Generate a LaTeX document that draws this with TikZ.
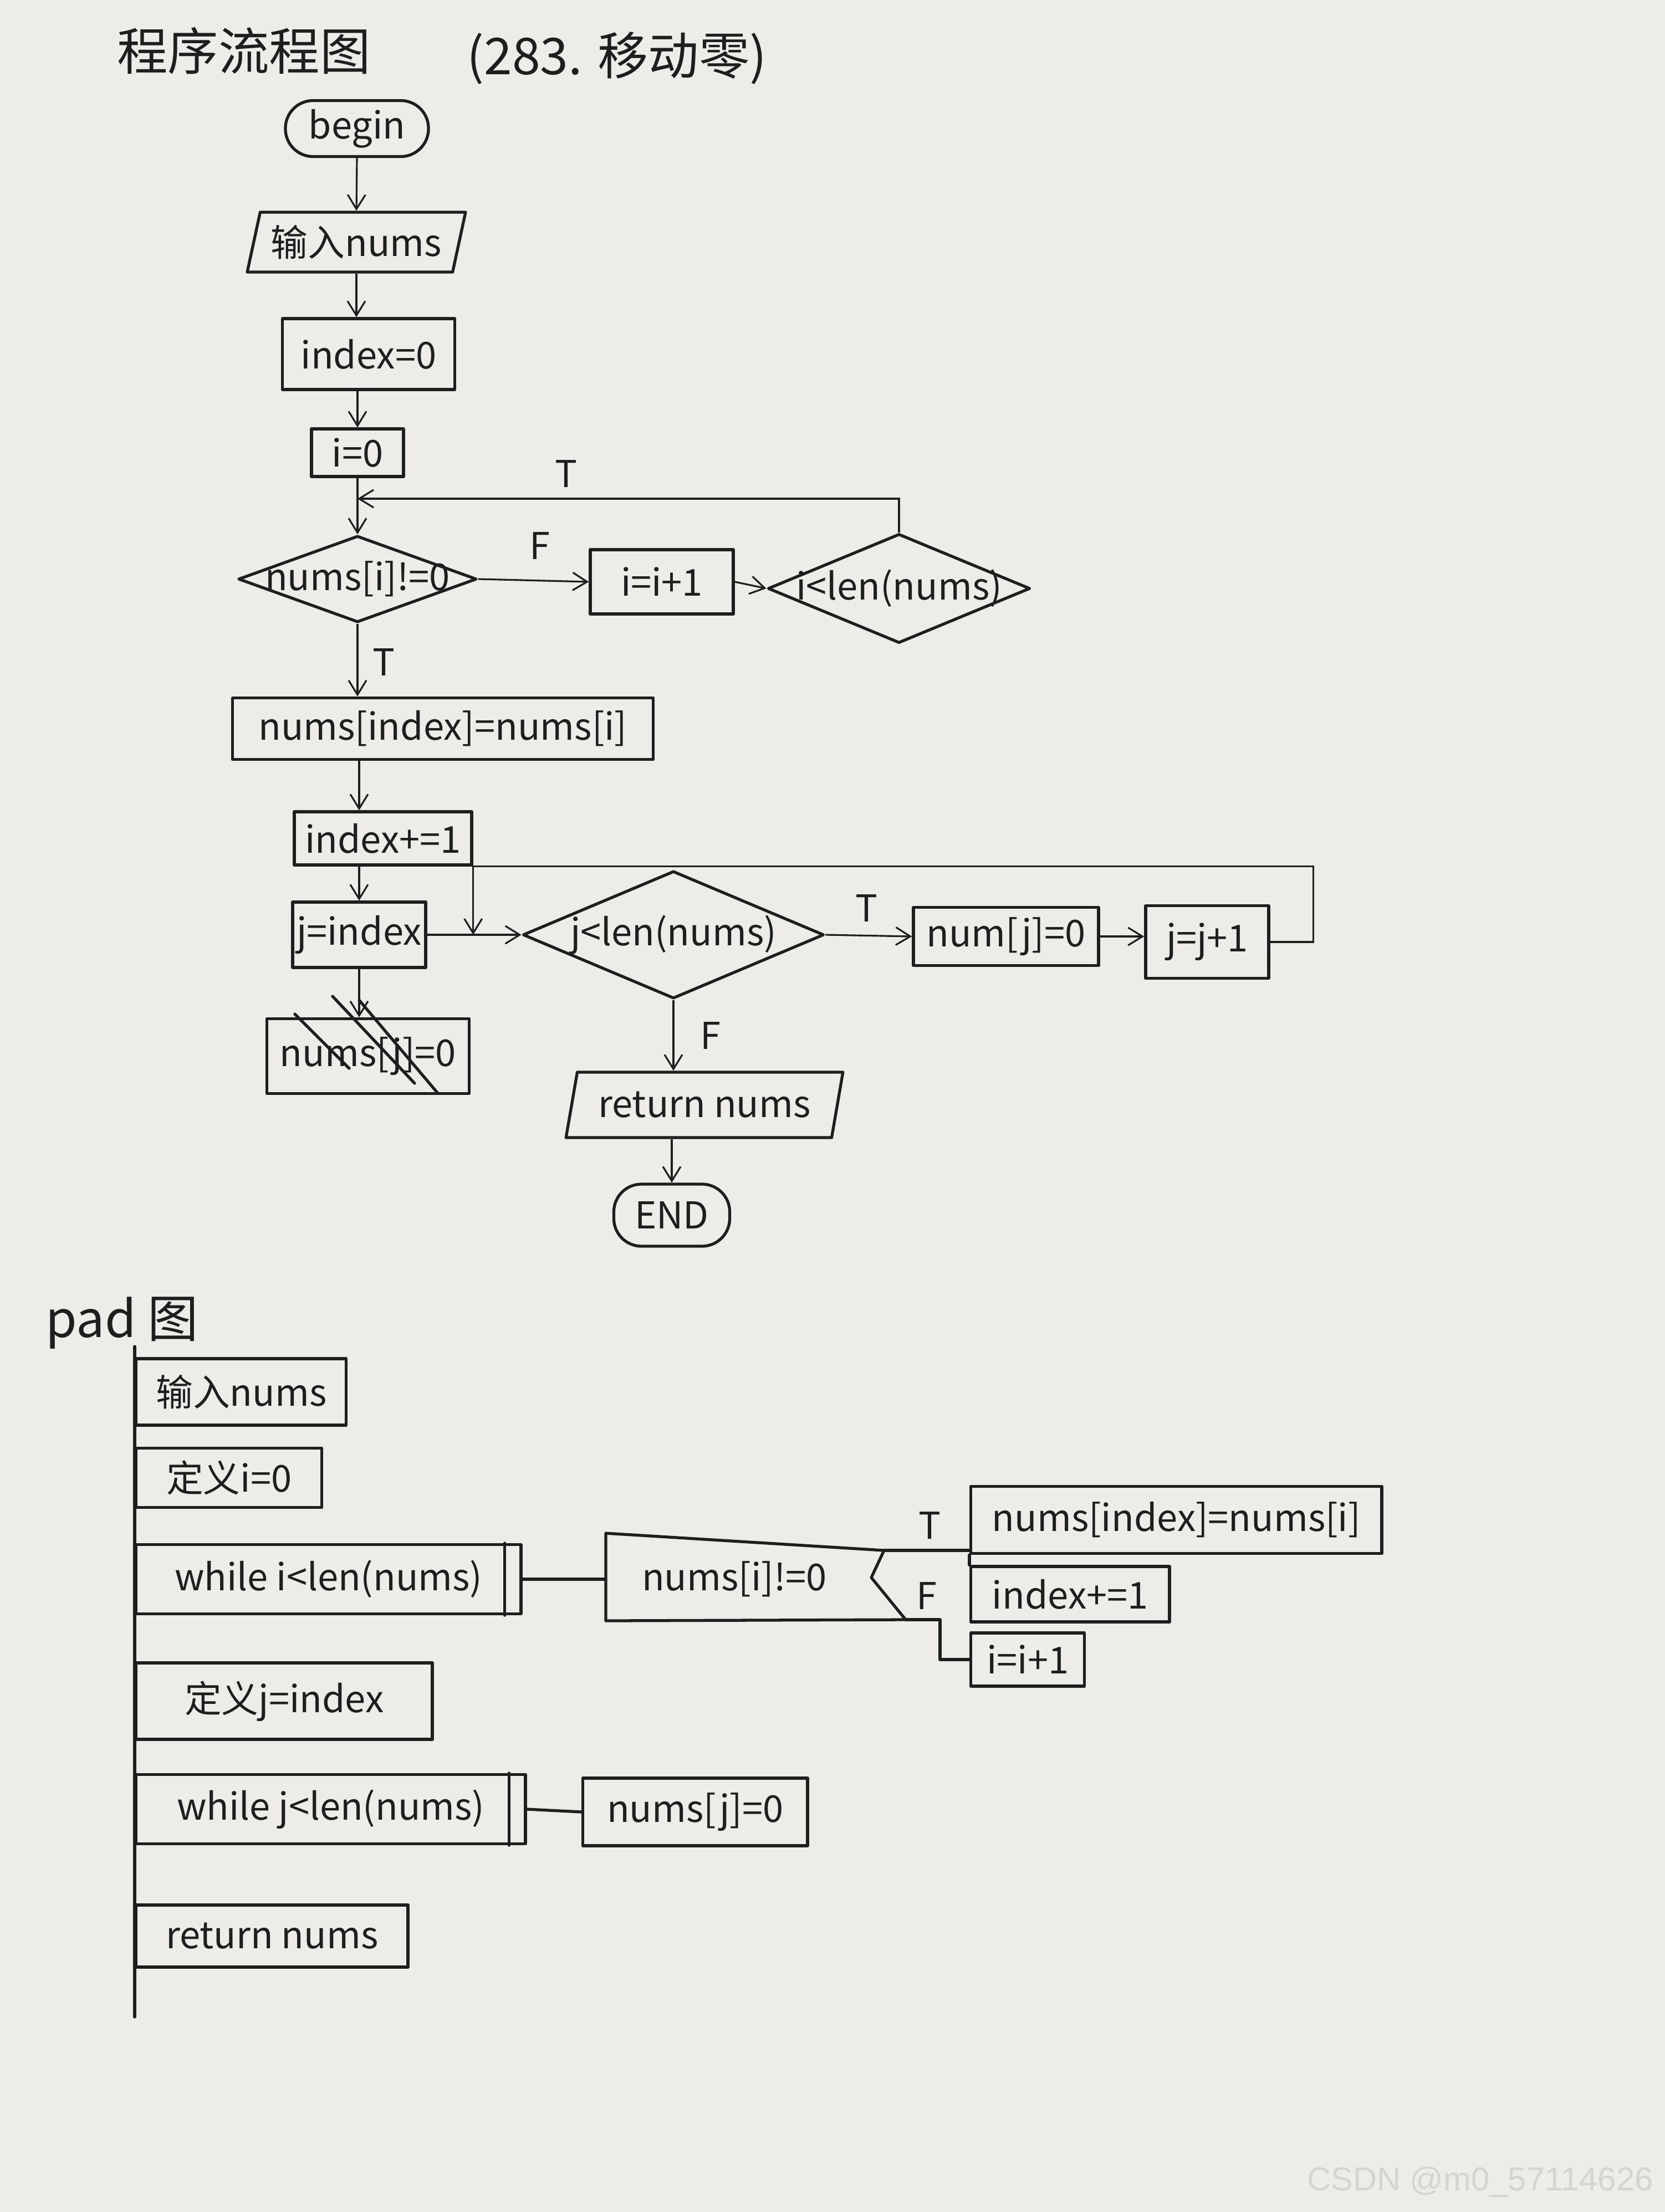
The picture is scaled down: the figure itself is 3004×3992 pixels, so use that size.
\documentclass[tikz,border=0pt]{standalone}
\usepackage{fontspec}
\setmainfont{Noto Sans CJK SC}
\newfontfamily\wmfont{Liberation Sans}
\usetikzlibrary{shapes.geometric,arrows.meta}

\definecolor{paper}{RGB}{237,236,232}
\definecolor{ink}{RGB}{30,30,30}
\definecolor{wmgray}{RGB}{212,212,209}

\tikzset{
    wire/.style={draw=ink, line width=1.5pt, line cap=round, line join=round},
    box/.style={wire, inner sep=2pt},
    term/.style={box, rounded corners=0.5cm},
    io/.style={box, trapezium, trapezium stretches=true, trapezium left angle=74, trapezium right angle=106},
    dec/.style={box, diamond, inner sep=0pt},
    arr/.style={draw=ink, line width=0.9pt, -{Straight Barb[length=2.6mm,width=3.2mm]}},
    big/.style={font=\fontsize{26}{30}\selectfont}
}

\begin{document}
\begin{tikzpicture}[x=0.01cm, y=-0.01cm, font=\fontsize{19}{23}\selectfont, text=ink]
    \useasboundingbox (0,0) rectangle (3004,3992);
    \fill[paper] (0,0) rectangle (3004,3992);

    % 标题
    \node[big] (title) at (440,92) {程序流程图};
    \node[big] (prob) at (1113,105) {(283. 移动零)};

    % 程序流程图
    \node[term, minimum width=2.58cm, minimum height=1.01cm] (begin) at (644,232) {begin};
    \node[io, minimum width=3.94cm, minimum height=1.08cm] (in) at (643,437) {输入nums};
    \node[box, minimum width=3.11cm, minimum height=1.28cm] (idx0) at (665,639) {index=0};
    \node[box, minimum width=1.66cm, minimum height=0.86cm] (i0) at (645,817) {i=0};
    \node[dec, minimum width=4.30cm, minimum height=1.56cm, label=center:{nums[i]!=0}] (d1) at (645,1045) {};
    \node[box, minimum width=2.58cm, minimum height=1.16cm] (inc1) at (1194,1050) {i=i+1};
    \node[dec, minimum width=4.73cm, minimum height=1.97cm, label=center:{i<len(nums)}] (d2) at (1622,1062) {};
    \node[box, minimum width=7.58cm, minimum height=1.11cm] (asg) at (799,1315) {nums[index]=nums[i]};
    \node[box, minimum width=3.20cm, minimum height=0.96cm] (idx1) at (691,1513) {index+=1};
    \node[box, minimum width=2.35cm, minimum height=1.18cm] (jidx) at (648,1687) {j=index};
    \node[box, minimum width=3.65cm, minimum height=1.35cm] (old) at (664,1906) {nums[j]=0};
    \node[dec, minimum width=5.43cm, minimum height=2.30cm, label=center:{j<len(nums)}] (d3) at (1215,1687) {};
    \node[box, minimum width=3.34cm, minimum height=1.05cm] (zero) at (1815,1690) {num[j]=0};
    \node[box, minimum width=2.22cm, minimum height=1.31cm] (inc2) at (2178,1700) {j=j+1};
    \node[io, minimum width=5.00cm, minimum height=1.18cm] (ret) at (1271,1994) {return nums};
    \node[term, minimum width=2.09cm, minimum height=1.12cm] (end) at (1212,2193) {END};
    \coordinate (lp) at (645,900);

    \draw[arr] (begin.south) -- (in.north);
    \draw[arr] (in.south) -- (in.south |- idx0.north);
    \draw[arr] (idx0.south -| i0.north) -- (i0.north);
    \draw[arr] (i0.south) -- (d1.north);
    \draw[arr] (d2.north) |- (lp);
    \draw[arr] (d1.east) -- (inc1.west);
    \draw[arr] (inc1.east) -- (d2.west);
    \draw[arr] (d1.south) -- (d1.south |- asg.north);
    \draw[arr] (asg.south -| jidx.north) -- (jidx.north |- idx1.north);
    \draw[arr] (idx1.south -| jidx.north) -- (jidx.north);
    \draw[arr] (jidx.south) -- (jidx.south |- old.north);
    \draw[arr] (jidx.east) -- (d3.west);
    \draw[arr] (d3.east) -- (zero.west);
    \draw[arr] (zero.east) -- (zero.east -| inc2.west);
    \draw[arr] (inc2.east) -- ++(78,0) |- (idx1.south east) -- (idx1.south east |- d3.west);
    \draw[arr] (d3.south) -- (d3.south |- ret.north);
    \draw[arr] (ret.south -| end.north) -- (end.north);

    \node (tT1) at (1022,855) {T};
    \node (tF1) at (974,985) {F};
    \node (tT2) at (693,1195) {T};
    \node (tT3) at (1563,1639) {T};
    \node (tF3) at (1282,1869) {F};

    % 划掉的框
    \foreach \xa/\ya/\xb/\yb in {532/1830/630/1928, 600/1798/748/1955, 648/1805/790/1973} {
        \draw[wire] (\xa,\ya) -- (\xb,\yb);
    }

    % pad图
    \node[big] (padlbl) at (220,2388) {pad 图};
    \coordinate (mt) at (243,2430);
    \coordinate (mb) at (243,3640);
    \draw[wire] (mt) -- (mb);
    \foreach \n/\y/\w/\h/\t in {p1/2512/3.79/1.20/输入nums, p2/2667/3.35/1.07/定义i=0,
        p3/2850/6.94/1.25/{while i<len(nums)}, p4/3070/5.34/1.38/定义j=index,
        p5/3265/7.02/1.25/{while j<len(nums)}, p6/3494/4.90/1.12/{return nums}} {
        \node[box, anchor=west, minimum width=\w cm, minimum height=\h cm] (\n) at (243,\y) {\t};
    }
    \foreach \n in {p3,p5} {
        \draw[wire] ([xshift=-0.32cm]\n.north east) -- ([xshift=-0.32cm]\n.south east);
    }

    % 选择框
    \coordinate (sNW) at (1093,2767);
    \coordinate (sNE) at (1595,2798);
    \coordinate (sK) at (1572,2847);
    \coordinate (sSE) at (1634,2923);
    \coordinate (sSW) at (1093,2925);
    \draw[wire] (sNW) -- (sNE) -- (sK) -- (sSE) -- (sSW) -- cycle;
    \node (sel) at (1325,2850) {nums[i]!=0};
    \node[box, anchor=west, minimum width=7.41cm, minimum height=1.21cm] (q1) at (1749,2743) {nums[index]=nums[i]};
    \node[box, anchor=west, minimum width=3.58cm, minimum height=1.00cm] (q2) at (1749,2877) {index+=1};
    \node[box, anchor=west, minimum width=2.05cm, minimum height=0.96cm] (q3) at (1749,2995) {i=i+1};
    \node[box, anchor=west, minimum width=4.05cm, minimum height=1.22cm] (r1) at (1049,3270) {nums[j]=0};

    \draw[wire] (p3.east) -- (p3.east -| sNW);
    \draw[wire] (sNE) -- (sNE -| q1.west);
    \draw[wire] (q1.south west) -- (q2.north west);
    \draw[wire] (sSE) -- ++(62,0) |- (q3.west);
    \draw[wire] (p5.east) -- (r1.west);
    \node (tT4) at (1677,2753) {T};
    \node (tF4) at (1672,2880) {F};

    \node[text=wmgray, anchor=east, font=\wmfont\fontsize{17}{20}\selectfont] (wm) at (2995,3938) {CSDN @m0\_57114626};
\end{tikzpicture}
\end{document}
